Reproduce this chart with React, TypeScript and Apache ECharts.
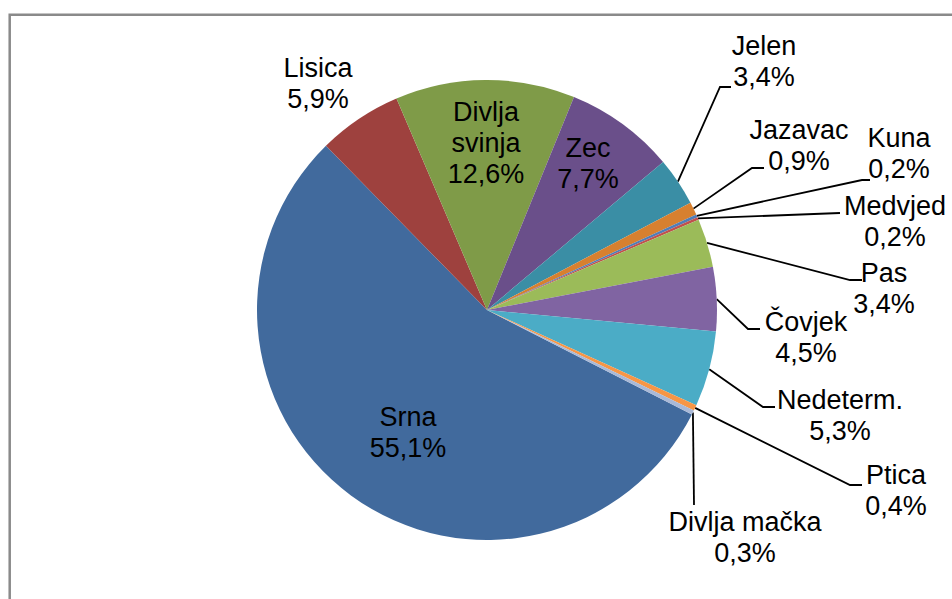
import React, { useEffect, useRef } from 'react';
import * as echarts from 'echarts';

// Categories in clockwise order (starting with Srna)
const categories = [
  'Srna', 'Lisica', 'Divlja svinja', 'Zec', 'Jelen', 'Jazavac', 'Kuna',
  'Medvjed', 'Pas', 'Čovjek', 'Nedeterm.', 'Ptica', 'Divlja mačka',
];
// Shares in percent
const shares = [55.1, 5.9, 12.6, 7.7, 3.4, 0.9, 0.2, 0.2, 3.4, 4.5, 5.3, 0.4, 0.3];

const colors = [
  '#416A9D', '#9E413E', '#7F9B48', '#6A4F8A', '#3A8EA5', '#D7802F', '#4F7DB8',
  '#C0504D', '#9BBB59', '#8064A2', '#4BACC6', '#F79646', '#A9B9D7',
];

// Label block centres (layout only)
const labelCenters: number[][] = [
  [408, 432], [318, 83], [486, 143], [588, 163], [764, 61], [799, 145], [899, 153],
  [895, 221], [884, 288], [806, 337], [840, 415], [896, 490], [745, 537],
];
// Leader line bend/end points (layout only); null = no leader line
const leaderBends: (number[][] | null)[] = [
  null, null, null, null,
  [[720, 87], [731, 87]],
  [[752, 168], [764, 168]],
  [[862, 180], [870, 180]],
  [[840, 213]],
  [[850, 280], [862, 280]],
  [[748, 329], [760, 329]],
  [[763, 407], [775, 407]],
  [[850, 485], [862, 485]],
  [[694, 505]],
];

const fmtPct = (v: number) => v.toFixed(1).replace('.', ',') + '%';

export default function App() {
  const ref = useRef<HTMLDivElement>(null);
  useEffect(() => {
    const chart = echarts.init(ref.current!, null, { renderer: 'svg' });
    const data = categories.map((name, i) => ({
      name,
      value: shares[i],
      itemStyle: { color: colors[i] },
      labelLine: { show: leaderBends[i] !== null },
    }));
    chart.setOption({
      animation: false,
      backgroundColor: '#ffffff',
      graphic: [
        {
          type: 'rect',
          silent: true,
          z: -10,
          shape: { x: 9.7, y: 14.7, width: 1200, height: 1200 },
          style: { fill: 'none', stroke: '#8a8a8a', lineWidth: 2.5 },
        },
      ],
      series: [
        {
          type: 'pie',
          center: [487, 310],
          radius: 230,
          startAngle: 333,
          clockwise: true,
          avoidLabelOverlap: false,
          data,
          itemStyle: { borderWidth: 0 },
          emphasis: { disabled: true },
          label: {
            show: true,
            position: 'outside',
            color: '#000',
            fontFamily: '"Liberation Sans", Arial, sans-serif',
            fontSize: 27,
            lineHeight: 31,
            formatter: (p: any) => {
              const nm = p.name === 'Divlja svinja' ? 'Divlja\nsvinja' : p.name;
              return nm + '\n' + fmtPct(p.value);
            },
          },
          labelLine: {
            show: true,
            smooth: false,
            lineStyle: { color: '#000', width: 1.8 },
          },
          labelLayout: (params: any) => {
            const i = params.dataIndex;
            const c = labelCenters[i];
            const res: any = { x: c[0], y: c[1], align: 'center', verticalAlign: 'middle' };
            const bend = leaderBends[i];
            if (bend && params.labelLinePoints) {
              res.labelLinePoints = [params.labelLinePoints[0], ...bend];
            }
            return res;
          },
        },
      ],
    });
    return () => chart.dispose();
  }, []);
  return (
    <div
      ref={ref}
      style={{ position: 'fixed', left: 0, top: 0, width: 952, height: 599, background: '#fff' }}
    />
  );
}
